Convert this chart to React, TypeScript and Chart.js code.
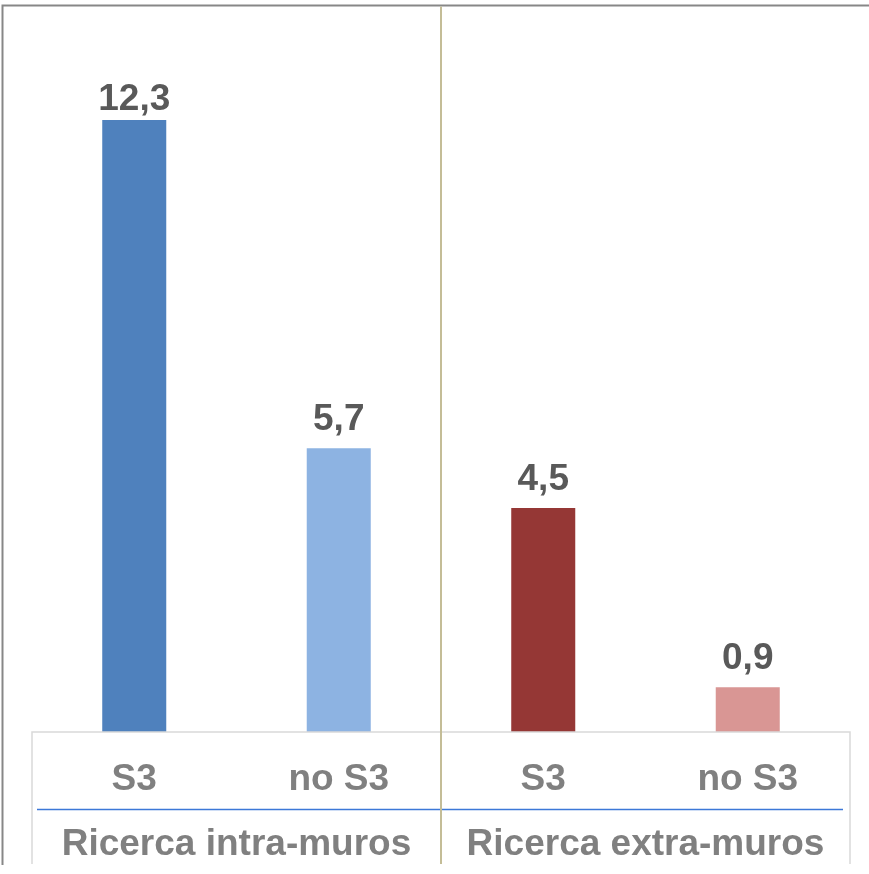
import React, { useEffect, useRef } from "react";
import { Chart, registerables } from "chart.js";

Chart.register(...registerables);

const categories = ["S3", "no S3", "S3", "no S3"];
const groups = ["Ricerca intra-muros", "Ricerca extra-muros"];
const values = [12.3, 5.7, 4.5, 0.9];
const colors = ["#4f81bd", "#8db3e2", "#953735", "#d99694"];

const W = 869;
const H = 874;
const FONT = "bold 37px 'Liberation Sans', Arial, sans-serif";

const decorPlugin = {
  id: "decor",
  afterDraw(chart: any) {
    const ctx = chart.ctx as CanvasRenderingContext2D;
    const xs = chart.scales.x;
    const area = chart.chartArea;
    const meta = chart.getDatasetMeta(0);
    ctx.save();

    // data labels
    ctx.font = FONT;
    ctx.fillStyle = "#595959";
    ctx.textAlign = "center";
    ctx.textBaseline = "alphabetic";
    meta.data.forEach((bar: any, i: number) => {
      const label = values[i].toFixed(1).replace(".", ",");
      const y = Math.max(bar.y - 18, area.top + 104);
      ctx.fillText(label, bar.x, y);
    });

    // outer border
    ctx.strokeStyle = "#878787";
    ctx.lineWidth = 2;
    ctx.beginPath();
    ctx.moveTo(2.5, 865);
    ctx.lineTo(2.5, 5.5);
    ctx.lineTo(W + 2, 5.5);
    ctx.stroke();

    // category box
    const left = area.left;
    const right = area.right;
    const base = area.bottom;
    ctx.strokeStyle = "#d9d9d9";
    ctx.lineWidth = 1.5;
    ctx.beginPath();
    ctx.moveTo(left, 864);
    ctx.lineTo(left, base);
    ctx.lineTo(right, base);
    ctx.lineTo(right, 864);
    ctx.stroke();

    // blue separator line between levels
    ctx.strokeStyle = "#3c78d8";
    ctx.lineWidth = 1.5;
    ctx.beginPath();
    ctx.moveTo(left + 5, 809.5);
    ctx.lineTo(right - 7, 809.5);
    ctx.stroke();

    // group separator
    const mid = (xs.getPixelForValue(1) + xs.getPixelForValue(2)) / 2;
    ctx.strokeStyle = "#c4bd97";
    ctx.lineWidth = 2;
    ctx.beginPath();
    ctx.moveTo(mid, 6.5);
    ctx.lineTo(mid, 864);
    ctx.stroke();

    // category labels
    ctx.fillStyle = "#808080";
    ctx.font = FONT;
    categories.forEach((c, i) => {
      ctx.fillText(c, xs.getPixelForValue(i), 790);
    });
    groups.forEach((g, gi) => {
      const cx = (xs.getPixelForValue(gi * 2) + xs.getPixelForValue(gi * 2 + 1)) / 2;
      ctx.fillText(g, cx, 855);
    });

    ctx.restore();
  },
};

export default function App() {
  const ref = useRef<HTMLCanvasElement>(null);
  useEffect(() => {
    document.body.style.margin = "0";
    const chart = new Chart(ref.current!, {
      type: "bar",
      data: {
        labels: categories.map((c, i) => `${c}-${i}`),
        datasets: [
          {
            data: values,
            backgroundColor: colors,
            borderWidth: 0,
            barPercentage: 1,
            categoryPercentage: 0.313,
          },
        ],
      },
      options: {
        animation: false,
        responsive: false,
        devicePixelRatio: 1,
        layout: { padding: { left: 32, right: 19, top: 6, bottom: 142 } },
        plugins: { legend: { display: false }, tooltip: { enabled: false } },
        scales: {
          x: { display: false },
          y: { display: false, min: 0, max: 14.59 },
        },
      },
      plugins: [decorPlugin],
    });
    return () => chart.destroy();
  }, []);
  return (
    <div style={{ position: "absolute", left: 0, top: 0, width: W, height: H, background: "#fff" }}>
      <canvas ref={ref} width={W} height={H} style={{ width: W, height: H, display: "block" }} />
    </div>
  );
}
